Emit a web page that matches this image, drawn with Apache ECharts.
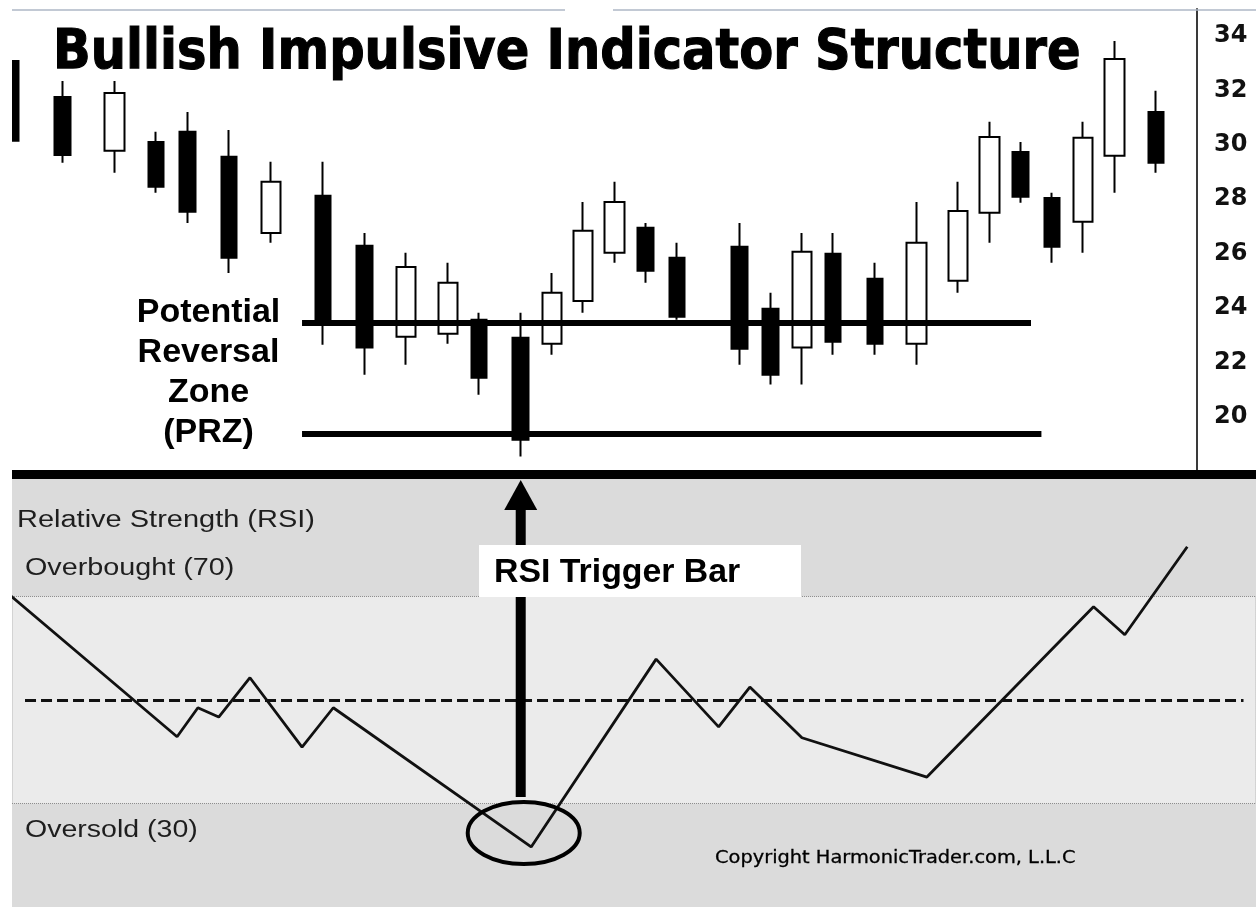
<!DOCTYPE html>
<html>
<head>
<meta charset="utf-8">
<script src="https://cdn.jsdelivr.net/npm/echarts@6/dist/echarts.min.js"></script>
<style>
html, body { margin: 0; padding: 0; background: #ffffff; }
#chart { width: 1256px; height: 907px; }
</style>
</head>
<body>
<div id="chart"></div>
<script>
// Price candles: session slot (gaps are non-trading slots), open, close, low, high
const sessions = [0, 5, 10, 14, 17, 21, 25, 30, 34, 38, 42, 45, 49, 52, 55, 58, 61, 64, 70, 73, 76, 79, 83, 87, 91, 94, 97, 100, 103, 106, 110];
const opens  = [33.09, 31.76, 29.78, 30.11, 30.48, 29.56, 26.76, 28.13, 26.29, 22.94, 23.05, 23.57, 22.90, 22.68, 24.26, 26.03, 26.95, 25.85, 26.25, 23.97, 22.54, 25.99, 25.07, 22.68, 25.00, 27.50, 29.74, 28.05, 27.17, 29.60, 31.21];
const closes = [30.15, 29.63, 31.91, 28.46, 27.54, 25.85, 28.64, 23.57, 22.54, 25.51, 24.93, 21.43, 19.15, 24.56, 26.84, 27.90, 25.37, 23.68, 22.50, 21.54, 26.07, 22.76, 22.68, 26.40, 27.57, 30.29, 28.09, 26.25, 30.26, 33.16, 29.34];
const lows   = [29.71, 29.34, 28.97, 28.24, 27.13, 25.29, 26.40, 22.65, 21.54, 21.91, 22.68, 20.81, 18.53, 22.28, 23.82, 25.66, 24.93, 23.57, 21.91, 21.18, 21.18, 22.28, 22.28, 21.91, 24.56, 26.40, 27.87, 25.66, 26.03, 28.24, 28.97];
const highs  = [33.86, 32.35, 32.35, 30.48, 31.21, 30.55, 29.38, 29.38, 26.76, 26.03, 25.66, 23.82, 23.82, 25.29, 27.90, 28.64, 27.13, 26.40, 27.13, 24.56, 26.76, 26.76, 25.66, 27.90, 28.64, 30.85, 30.11, 28.24, 30.85, 33.82, 31.99];

// Price axis tick labels
const priceTicks = [20, 22, 24, 26, 28, 30, 32, 34];

// Potential Reversal Zone levels and their span in session slots
const przUpper = 23.45;
const przLower = 19.38;
const przFrom = 28;
const przToUpper = 98;
const przToLower = 99;

// Candle that triggers the RSI signal (index into the candle arrays)
const triggerIndex = 12;

// RSI line
const rsiSlots  = [0, 16, 18, 20, 23, 28, 31, 50, 62, 68, 71, 76, 88, 104, 107, 113];
const rsiValues = [70.2, 42.9, 48.5, 46.7, 54.3, 40.9, 48.5, 21.6, 57.9, 44.8, 52.5, 42.7, 35.1, 68.0, 62.6, 79.6];
const overbought = 70;
const oversold = 30;
const midline = 50;

const upCandles = [];
const downCandles = [];
sessions.forEach(function (s, i) {
  const item = [s, opens[i], closes[i], lows[i], highs[i]];
  if (closes[i] >= opens[i]) upCandles.push(item); else downCandles.push(item);
});
const rsiData = rsiSlots.map(function (s, i) { return [s, rsiValues[i]]; });

const chart = echarts.init(document.getElementById('chart'), null, { renderer: 'canvas' });

const xMin = 0.15, xMaxPrice = 113.94, xMaxRsi = 119.6;

const option = {
  backgroundColor: '#ffffff',
  animation: false,
  grid: [
    { left: 12, right: 59, top: 9, height: 462, show: false },
    { left: 12, right: 0, top: 479, height: 428, show: true, backgroundColor: '#dbdbdb', borderWidth: 0 }
  ],
  xAxis: [
    { type: 'value', gridIndex: 0, min: xMin, max: xMaxPrice, show: false },
    {
      type: 'value', gridIndex: 1, min: xMin, max: xMaxRsi, position: 'top', offset: 5,
      axisLine: { show: true, lineStyle: { color: '#000', width: 9 } },
      axisTick: { show: false }, axisLabel: { show: false }, splitLine: { show: false }
    }
  ],
  yAxis: [
    {
      type: 'value', gridIndex: 0, position: 'right', min: 18, max: 35, interval: 2,
      axisLine: { show: true, lineStyle: { color: '#3a3a3a', width: 2 } },
      axisTick: { show: false }, splitLine: { show: false },
      axisLabel: {
        margin: 17, color: '#111', fontFamily: 'DejaVu Sans', fontWeight: 'bold', fontSize: 24,
        formatter: function (v) { return priceTicks.indexOf(v) >= 0 ? String(v) : ''; }
      }
    },
    { type: 'value', gridIndex: 1, min: 10, max: 92.7, show: false }
  ],
  series: [
    {
      name: 'Down', type: 'candlestick', xAxisIndex: 0, yAxisIndex: 0,
      data: downCandles, barWidth: 16, clip: false, silent: true,
      encode: { x: 0, y: [1, 2, 3, 4] },
      itemStyle: { color: '#000', color0: '#000', borderColor: '#000', borderColor0: '#000', borderWidth: 2 }
    },
    {
      name: 'Up', type: 'candlestick', xAxisIndex: 0, yAxisIndex: 0,
      data: upCandles, barWidth: 20, clip: false, silent: true,
      encode: { x: 0, y: [1, 2, 3, 4] },
      itemStyle: { color: '#fff', color0: '#fff', borderColor: '#000', borderColor0: '#000', borderWidth: 2 }
    },
    {
      name: 'PRZ', type: 'line', xAxisIndex: 0, yAxisIndex: 0, data: [], z: 5, silent: true,
      markLine: {
        silent: true, symbol: ['none', 'none'], label: { show: false },
        lineStyle: { color: '#000', width: 6, type: 'solid' },
        emphasis: { disabled: true },
        data: [
          [{ coord: [przFrom, przUpper] }, { coord: [przToUpper, przUpper] }],
          [{ coord: [przFrom, przLower] }, { coord: [przToLower, przLower] }]
        ]
      }
    },
    {
      name: 'RSI', type: 'line', xAxisIndex: 1, yAxisIndex: 1, data: rsiData,
      symbol: 'none', silent: true, z: 4,
      lineStyle: { color: '#111', width: 2.8 },
      markArea: {
        silent: true,
        itemStyle: { color: '#ebebeb', borderColor: '#8c8c8c', borderWidth: 1, borderType: 'dotted' },
        data: [[{ yAxis: overbought }, { yAxis: oversold }]]
      },
      markLine: {
        silent: true, symbol: ['none', 'none'], label: { show: false },
        lineStyle: { color: '#111', width: 3, type: [11, 5] },
        emphasis: { disabled: true },
        data: [[{ coord: [1.4, midline] }, { coord: [118.4, midline] }]]
      }
    }
  ]
};

chart.setOption(option);

// Annotations positioned from the trigger candle
const trig = chart.convertToPixel({ xAxisIndex: 0, yAxisIndex: 0 }, [sessions[triggerIndex], closes[triggerIndex]]);
const ax = trig[0];

chart.setOption({
  graphic: [
    { type: 'rect', z: 200, shape: { x: 0, y: 0, width: 12, height: 907 }, style: { fill: '#ffffff' } },
    { type: 'line', z: 200, shape: { x1: 12, y1: 10, x2: 565, y2: 10 }, style: { stroke: '#aeb7c6', lineWidth: 1.5 } },
    { type: 'line', z: 200, shape: { x1: 613, y1: 10, x2: 1256, y2: 10 }, style: { stroke: '#aeb7c6', lineWidth: 1.5 } },
    {
      type: 'text', z: 200, x: 53, y: 53, scaleX: 0.885,
      style: { text: 'Bullish Impulsive Indicator Structure', fontFamily: 'DejaVu Sans', fontWeight: 'bold', fontSize: 56, fill: '#000', stroke: '#000', lineWidth: 1.2, verticalAlign: 'middle' }
    },
    {
      type: 'text', z: 200, x: 208.5, y: 373,
      style: { text: 'Potential\nReversal\nZone\n(PRZ)', fontFamily: 'Liberation Sans', fontWeight: 'bold', fontSize: 34, lineHeight: 40, fill: '#000', align: 'center', verticalAlign: 'middle' }
    },
    {
      type: 'text', z: 200, x: 17, y: 521, scaleX: 1.26,
      style: { text: 'Relative Strength (RSI)', fontFamily: 'Liberation Sans', fontSize: 23, fill: '#1e1e1e', verticalAlign: 'middle' }
    },
    {
      type: 'text', z: 200, x: 25, y: 569, scaleX: 1.25,
      style: { text: 'Overbought (70)', fontFamily: 'Liberation Sans', fontSize: 23, fill: '#1e1e1e', verticalAlign: 'middle' }
    },
    {
      type: 'text', z: 200, x: 25, y: 831, scaleX: 1.24,
      style: { text: 'Oversold (30)', fontFamily: 'Liberation Sans', fontSize: 23, fill: '#1e1e1e', verticalAlign: 'middle' }
    },
    {
      type: 'text', z: 200, x: 715, y: 859, scaleX: 1.14,
      style: { text: 'Copyright HarmonicTrader.com, L.L.C', fontFamily: 'DejaVu Sans', fontSize: 17, fill: '#000', stroke: '#000', lineWidth: 0.3, verticalAlign: 'middle' }
    },
    // Arrow from the RSI low up to the trigger candle
    { type: 'rect', z: 200, shape: { x: ax - 5, y: 505, width: 10, height: 292 }, style: { fill: '#000' } },
    { type: 'polygon', z: 200, shape: { points: [[ax, 480], [ax - 16.5, 510], [ax + 16.5, 510]] }, style: { fill: '#000' } },
    { type: 'ellipse', z: 200, shape: { cx: ax + 3, cy: 833, rx: 56, ry: 31 }, style: { fill: 'none', stroke: '#000', lineWidth: 4 } },
    { type: 'rect', z: 201, shape: { x: 479, y: 545, width: 322, height: 52 }, style: { fill: '#ffffff' } },
    {
      type: 'text', z: 202, x: 494, y: 573, scaleX: 1.025,
      style: { text: 'RSI Trigger Bar', fontFamily: 'Liberation Sans', fontWeight: 'bold', fontSize: 33, fill: '#000', verticalAlign: 'middle' }
    }
  ]
});
</script>
</body>
</html>
